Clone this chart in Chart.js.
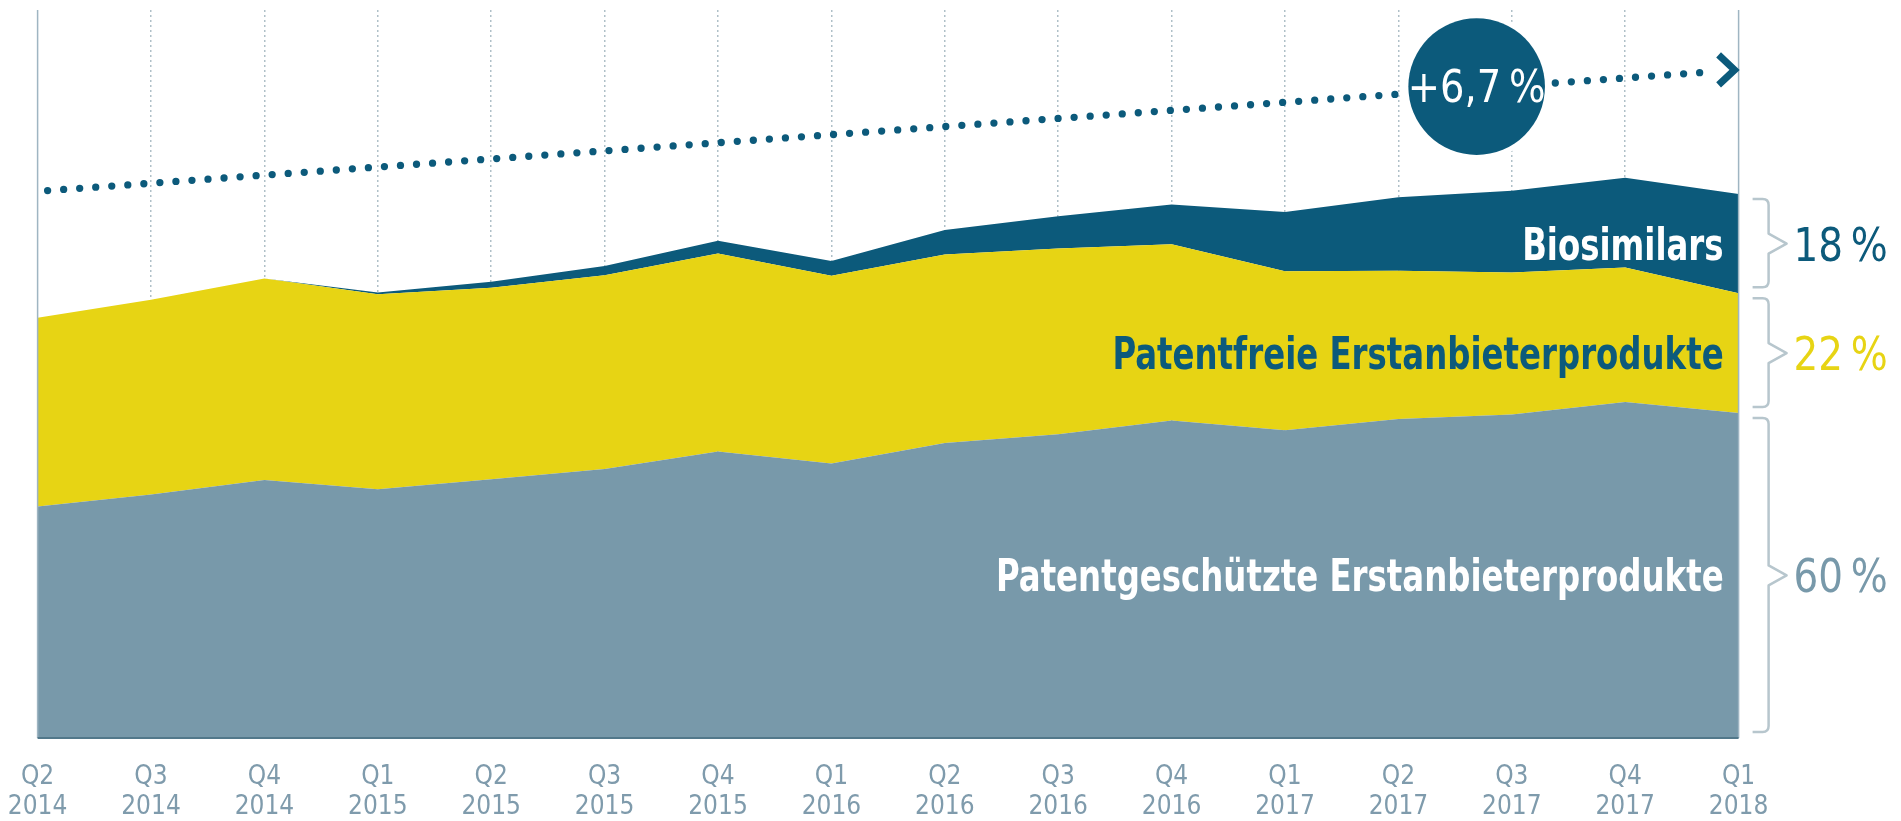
<!DOCTYPE html>
<html lang="de">
<head>
<meta charset="utf-8">
<title>Biosimilars</title>
<script src="https://cdn.jsdelivr.net/npm/chart.js@4.4.0/dist/chart.umd.min.js"></script>
<style>
  html, body { margin: 0; padding: 0; background: #fff; }
  #chart { display: block; }
</style>
</head>
<body>
<canvas id="chart" width="1901" height="821"></canvas>
<script>
// Data
const quarters = ['Q2', 'Q3', 'Q4', 'Q1', 'Q2', 'Q3', 'Q4', 'Q1', 'Q2', 'Q3', 'Q4', 'Q1', 'Q2', 'Q3', 'Q4', 'Q1'];
const years = ['2014', '2014', '2014', '2015', '2015', '2015', '2015', '2016', '2016', '2016', '2016', '2017', '2017', '2017', '2017', '2018'];

const patentProtected = [42.5, 44.7, 47.4, 45.7, 47.5, 49.4, 52.6, 50.4, 54.2, 55.8, 58.3, 56.5, 58.6, 59.4, 61.7, 59.7];
const offPatent = [34.7, 35.8, 37.0, 35.8, 35.2, 35.6, 36.4, 34.5, 34.6, 34.1, 32.4, 29.2, 27.2, 26.1, 24.7, 22.0];
const biosimilars = [0, 0, 0, 0.3, 1.1, 1.7, 2.3, 2.7, 4.5, 5.9, 7.3, 10.9, 13.5, 15.0, 16.5, 18.2];
const trend = [100.4, null, null, null, null, null, null, null, null, null, null, null, null, null, null, 122.7];

const seriesNames = ['Patentgeschützte Erstanbieterprodukte', 'Patentfreie Erstanbieterprodukte', 'Biosimilars'];
const shares = ['60\u202f%', '22\u202f%', '18\u202f%'];
const growthLabel = '+6,7\u202f%';
const growthAt = 12.69; // position of the bubble along the quarters
const yMax = 133.7;

// Styles
const BLUE = '#0c5a7b';
const YELLOW = '#e7d414';
const GREY = '#7899aa';
const BRACE = '#b7c6cd';
const FONT = "'DejaVu Sans Condensed', 'Liberation Sans Narrow', sans-serif";

// condensed text: squeeze horizontally around the anchor
function squeezeText(ctx, text, x, y, sx) {
    ctx.save();
    ctx.translate(x, y);
    ctx.scale(sx, 1);
    ctx.fillText(text, 0, 0);
    ctx.restore();
}

function drawBrace(ctx, x, top, bottom, mid) {
    const r = 6;
    ctx.beginPath();
    ctx.moveTo(x, top);
    ctx.lineTo(x + 16 - r, top);
    ctx.quadraticCurveTo(x + 16, top, x + 16, top + r);
    ctx.lineTo(x + 16, mid - 10);
    ctx.lineTo(x + 34, mid);
    ctx.lineTo(x + 16, mid + 10);
    ctx.lineTo(x + 16, bottom - r);
    ctx.quadraticCurveTo(x + 16, bottom, x + 16 - r, bottom);
    ctx.lineTo(x, bottom);
    ctx.stroke();
}

const overlay = {
    id: 'overlay',
    afterDraw(chart) {
        const { ctx, chartArea: a, scales: { x, y } } = chart;
        const last = quarters.length - 1;
        const xEnd = x.getPixelForValue(last);

        ctx.save();

        // frame lines
        ctx.strokeStyle = '#9fb5c2';
        ctx.lineWidth = 1.5;
        ctx.beginPath();
        ctx.moveTo(a.left, a.top);
        ctx.lineTo(a.left, a.bottom);
        ctx.moveTo(a.right, a.top);
        ctx.lineTo(a.right, a.bottom);
        ctx.stroke();
        ctx.strokeStyle = '#52788a';
        ctx.lineWidth = 2;
        ctx.beginPath();
        ctx.moveTo(a.left, a.bottom);
        ctx.lineTo(a.right, a.bottom);
        ctx.stroke();

        // bands at the last quarter
        const bands = [];
        let sum = 0;
        [patentProtected, offPatent, biosimilars].forEach(s => {
            const lo = sum;
            sum += s[last];
            bands.push({ top: y.getPixelForValue(sum), bottom: y.getPixelForValue(lo) });
        });
        const nameColors = ['#ffffff', BLUE, '#ffffff'];
        const shareColors = [GREY, YELLOW, BLUE];

        bands.forEach((b, i) => {
            const mid = (b.top + b.bottom) / 2;
            ctx.strokeStyle = BRACE;
            ctx.lineWidth = 2.5;
            ctx.lineJoin = 'round';
            drawBrace(ctx, xEnd + 14, b.top + 5, b.bottom - 6, mid);

            ctx.fillStyle = nameColors[i];
            ctx.font = 'bold 45px ' + FONT;
            ctx.textAlign = 'right';
            ctx.textBaseline = 'alphabetic';
            squeezeText(ctx, seriesNames[i], xEnd - 15, mid + 16, 0.8);

            ctx.fillStyle = shareColors[i];
            ctx.font = '46px ' + FONT;
            ctx.textAlign = 'left';
            squeezeText(ctx, shares[i], xEnd + 55, mid + 17, 0.94);
        });

        // growth bubble on the trend line
        const pts = chart.getDatasetMeta(3).data;
        const p0 = pts[0], p1 = pts[last];
        const cx = x.getPixelForValue(growthAt);
        const cy = p0.y + (p1.y - p0.y) * (growthAt / last) - 2;
        ctx.beginPath();
        ctx.arc(cx, cy, 68.3, 0, Math.PI * 2);
        ctx.fillStyle = BLUE;
        ctx.strokeStyle = '#ffffff';
        ctx.lineWidth = 10;
        ctx.stroke();
        ctx.fill();
        ctx.fillStyle = '#ffffff';
        ctx.font = '45px ' + FONT;
        ctx.textAlign = 'center';
        squeezeText(ctx, growthLabel, cx, cy + 15, 0.95);

        // arrow head
        ctx.strokeStyle = BLUE;
        ctx.lineWidth = 7;
        ctx.lineJoin = 'miter';
        ctx.lineCap = 'butt';
        ctx.beginPath();
        ctx.moveTo(p1.x - 20, p1.y - 15);
        ctx.lineTo(p1.x - 4, p1.y);
        ctx.lineTo(p1.x - 20, p1.y + 15);
        ctx.stroke();

        ctx.restore();
    }
};

const chart = new Chart(document.getElementById('chart'), {
    type: 'line',
    data: {
        labels: quarters.map((q, i) => [q, years[i]]),
        datasets: [{
            label: seriesNames[0],
            data: patentProtected,
            backgroundColor: GREY,
            borderColor: 'rgba(0,0,0,0)',
            fill: 'origin'
        }, {
            label: seriesNames[1],
            data: offPatent,
            backgroundColor: YELLOW,
            borderColor: 'rgba(0,0,0,0)',
            fill: '-1'
        }, {
            label: seriesNames[2],
            data: biosimilars,
            backgroundColor: BLUE,
            borderColor: 'rgba(0,0,0,0)',
            fill: '-1'
        }, {
            label: 'Trend',
            data: trend,
            yAxisID: 'yTrend',
            borderColor: BLUE,
            borderWidth: 7.3,
            borderDash: [0, 16.08],
            borderDashOffset: 6.05,
            borderCapStyle: 'round',
            spanGaps: true,
            fill: false,
            clip: { left: 5, top: 5, right: -30, bottom: 5 }
        }]
    },
    options: {
        responsive: false,
        animation: false,
        layout: { padding: { left: 37.6, right: 162.4, top: 10, bottom: 0 } },
        elements: {
            point: { radius: 0, hoverRadius: 0 },
            line: { tension: 0, borderWidth: 0 }
        },
        plugins: {
            legend: { display: false },
            tooltip: { enabled: false }
        },
        scales: {
            x: {
                z: 1,
                afterFit(scale) {
                    scale.height = 83;
                    scale.paddingLeft = 0;
                    scale.paddingRight = 0;
                },
                grid: {
                    color: ctx => (ctx.index === 0 || ctx.index === quarters.length - 1) ? 'rgba(0,0,0,0)' : 'rgba(95,130,145,0.5)',
                    lineWidth: 1.5,
                    drawTicks: false
                },
                border: { display: false, dash: [2, 3] },
                ticks: {
                    color: '#7f9bac',
                    padding: 24,
                    maxRotation: 0,
                    autoSkip: false,
                    font: { family: FONT, size: 26, lineHeight: 1.154 }
                }
            },
            y: { stacked: true, min: 0, max: yMax, display: false },
            yTrend: { min: 0, max: yMax, display: false }
        }
    },
    plugins: [overlay]
});
</script>
</body>
</html>
